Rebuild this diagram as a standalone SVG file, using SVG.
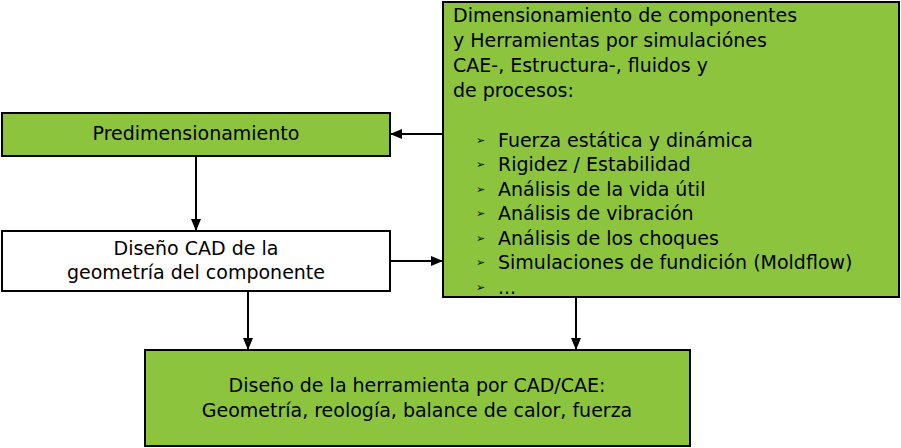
<svg xmlns="http://www.w3.org/2000/svg" width="901" height="448" viewBox="0 0 901 448">
<defs><marker id="ah" markerWidth="12" markerHeight="10" refX="11" refY="5" orient="auto" markerUnits="userSpaceOnUse"><path d="M0,0 L12,5 L0,10 z" fill="#000"/></marker>
<style>
.b{fill:#8cc43e;stroke:#000;stroke-width:2}
.w{fill:#fff;stroke:#000;stroke-width:2}
text{font-family:"DejaVu Sans",sans-serif;font-size:19px;fill:#000}
.c{text-anchor:middle}
.bu{font-size:11px}
line{stroke:#000;stroke-width:2;marker-end:url(#ah)}
</style></defs>
<rect width="901" height="448" fill="#fff"/>
<g id="sim"><rect class="b" x="443" y="2" width="456" height="295"/>
<text x="453" y="22">Dimensionamiento de componentes</text>
<text x="453" y="47">y Herramientas por simulaciónes</text>
<text x="453" y="72">CAE-, Estructura-, fluidos y</text>
<text x="453" y="97">de procesos:</text>
<g class="bu"><text x="476" y="144" class="bu">➢</text><text x="476" y="168" class="bu">➢</text><text x="476" y="193" class="bu">➢</text><text x="476" y="217" class="bu">➢</text><text x="476" y="242" class="bu">➢</text><text x="476" y="266" class="bu">➢</text><text x="476" y="291" class="bu">➢</text></g>
<text x="498" y="147">Fuerza estática y dinámica</text>
<text x="498" y="171">Rigidez / Estabilidad</text>
<text x="498" y="196">Análisis de la vida útil</text>
<text x="498" y="220">Análisis de vibración</text>
<text x="498" y="245">Análisis de los choques</text>
<text x="498" y="269">Simulaciones de fundición (Moldflow)</text>
<text x="498" y="294">...</text></g>
<g id="pre"><rect class="b" x="2" y="113" width="388" height="43"/><text class="c" x="196" y="140">Predimensionamiento</text></g>
<g id="cad"><rect class="w" x="2" y="231" width="388" height="60"/><text class="c" x="196" y="255">Diseño CAD de la</text><text class="c" x="196" y="279">geometría del componente</text></g>
<g id="tool"><rect class="b" x="145" y="350" width="545" height="96"/><text class="c" x="417" y="392">Diseño de la herramienta por CAD/CAE:</text><text class="c" x="417" y="417">Geometría, reología, balance de calor, fuerza</text></g>
<g id="connectors">
<line x1="443" y1="134" x2="391" y2="134"/>
<line x1="196" y1="157" x2="196" y2="230"/>
<line x1="391" y1="261" x2="442" y2="261"/>
<line x1="248" y1="292" x2="248" y2="349"/>
<line x1="576" y1="298" x2="576" y2="349"/>
</g>
</svg>
